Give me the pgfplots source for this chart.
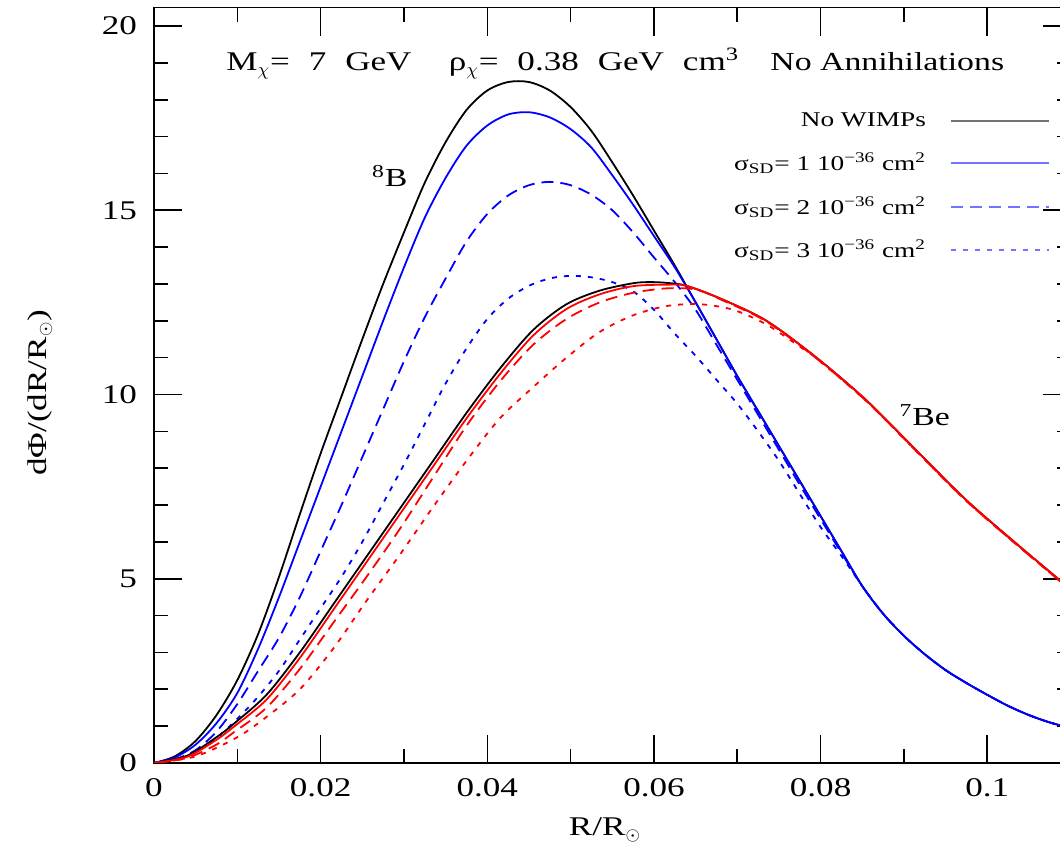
\documentclass[border=0pt]{standalone}
\usepackage{fontspec}
\setmainfont{Liberation Serif}[FakeStretch=1.3]
\usepackage{pgfplots}
\pgfplotsset{compat=1.18}
\newcommand{\wsp}{\hspace{0.7em}}
\begin{document}
\begin{tikzpicture}
\begin{axis}[name=ax,
  scale only axis, width=458.3pt, height=377.7pt,
  xmin=0, xmax=0.11, ymin=0, ymax=20.5,
  axis line style={line width=0.9pt},
  xtick={0,0.02,0.04,0.06,0.08,0.1},
  xticklabels={0,0.02,0.04,0.06,0.08,0.1},
  minor xtick={0.01,0.03,0.05,0.07,0.09,0.11},
  ytick={0,5,10,15,20}, minor y tick num=4,
  tick align=inside, tick pos=both,
  major tick length=14pt, minor tick length=7pt,
  every tick/.style={black, line width=0.8pt},
  /pgf/number format/assume math mode=true,
  ticklabel style={font=\fontsize{13.5}{16}\selectfont},
  xticklabel style={yshift=-4pt},
  yticklabel style={xshift=-5pt},
  xlabel={R/R$_\odot$}, ylabel={dΦ/(dR/R$_\odot$)},
  label style={font=\fontsize{13.5}{16}\selectfont},
  xlabel style={at={(axis description cs:0.492,-0.0887)}, anchor=center},
  ylabel style={at={(axis description cs:-0.1244,0.49)}, anchor=center, rotate=0},
  legend plot pos=right, legend cell align=right,
  legend image code/.code={\draw[#1, opacity=0.55] (0pt,0pt) -- (49pt,0pt);},
  legend style={draw=none, fill=none, at={(axis cs:0.1075,17.75)}, anchor=north east,
    font=\fontsize{10.5}{12}\selectfont, row sep=7.5pt, inner sep=0pt, outer sep=0pt,
    /tikz/every odd column/.style={column sep=10pt}},
  every axis plot/.append style={line width=0.9pt},
]
% 8B, No WIMPs
\addplot[black, smooth] coordinates {(0,0)(0.0025,0.18)(0.005,0.6)(0.0075,1.3)(0.01,2.25)(0.0125,3.5)(0.015,5.05)(0.0175,6.75)(0.02,8.4)(0.0225,9.95)(0.025,11.5)(0.0275,13.0)(0.03,14.4)(0.0325,15.75)(0.035,16.85)(0.0375,17.72)(0.04,18.25)(0.0425,18.48)(0.045,18.48)(0.0475,18.25)(0.05,17.8)(0.0525,17.15)(0.055,16.3)(0.0575,15.4)(0.06,14.45)(0.0625,13.5)(0.065,12.5)(0.0675,11.5)(0.07,10.5)(0.0725,9.55)(0.075,8.6)(0.0775,7.65)(0.08,6.7)(0.0825,5.75)(0.085,4.8)(0.0875,4.05)(0.09,3.45)(0.0925,2.95)(0.095,2.52)(0.0975,2.17)(0.1,1.85)(0.1025,1.55)(0.105,1.3)(0.1075,1.1)(0.11,0.95)};
\addlegendentry{No WIMPs}
% 8B, sigma 1
\addplot[blue, smooth] coordinates {(0,0)(0.0025,0.15)(0.005,0.5)(0.0075,1.08)(0.01,1.9)(0.0125,3.1)(0.015,4.5)(0.0175,6.0)(0.02,7.5)(0.0225,9.0)(0.025,10.5)(0.0275,12.0)(0.03,13.45)(0.0325,14.8)(0.035,15.88)(0.0375,16.75)(0.04,17.3)(0.0425,17.6)(0.045,17.66)(0.0475,17.52)(0.05,17.2)(0.0525,16.7)(0.055,15.95)(0.0575,15.15)(0.06,14.3)(0.0625,13.45)(0.065,12.5)(0.0675,11.5)(0.07,10.5)(0.0725,9.55)(0.075,8.6)(0.0775,7.65)(0.08,6.7)(0.0825,5.75)(0.085,4.8)(0.0875,4.05)(0.09,3.45)(0.0925,2.95)(0.095,2.52)(0.0975,2.17)(0.1,1.85)(0.1025,1.55)(0.105,1.3)(0.1075,1.1)(0.11,0.95)};
\addlegendentry{σ\textsubscript{SD}= 1 10\textsuperscript{−36} cm\textsuperscript{2}}
% 8B, sigma 2
\addplot[blue, smooth, dash pattern=on 6pt off 3.5pt] coordinates {(0,0)(0.0025,0.1)(0.005,0.35)(0.0075,0.85)(0.01,1.6)(0.0125,2.5)(0.015,3.4)(0.0175,4.5)(0.02,5.75)(0.0225,7.0)(0.025,8.3)(0.0275,9.6)(0.03,10.9)(0.0325,12.1)(0.035,13.15)(0.0375,14.15)(0.04,14.9)(0.0425,15.4)(0.045,15.68)(0.0475,15.77)(0.05,15.68)(0.0525,15.42)(0.055,15.0)(0.0575,14.4)(0.06,13.72)(0.0625,13.05)(0.065,12.3)(0.0675,11.35)(0.07,10.4)(0.0725,9.45)(0.075,8.5)(0.0775,7.55)(0.08,6.62)(0.0825,5.7)(0.085,4.8)(0.0875,4.05)(0.09,3.45)(0.0925,2.95)(0.095,2.52)(0.0975,2.17)(0.1,1.85)(0.1025,1.55)(0.105,1.3)(0.1075,1.1)(0.11,0.95)};
\addlegendentry{σ\textsubscript{SD}= 2 10\textsuperscript{−36} cm\textsuperscript{2}}
% 8B, sigma 3
\addplot[blue, smooth, dash pattern=on 2.5pt off 3.5pt] coordinates {(0,0)(0.0025,0.08)(0.005,0.3)(0.0075,0.68)(0.01,1.2)(0.0125,1.8)(0.015,2.5)(0.0175,3.35)(0.02,4.2)(0.0225,5.05)(0.025,6.0)(0.0275,7.05)(0.03,8.1)(0.0325,9.2)(0.035,10.3)(0.0375,11.25)(0.04,12.05)(0.0425,12.6)(0.045,12.95)(0.0475,13.15)(0.05,13.22)(0.0525,13.18)(0.055,13.05)(0.0575,12.8)(0.06,12.3)(0.0625,11.65)(0.065,11.05)(0.0675,10.4)(0.07,9.75)(0.0725,9.0)(0.075,8.2)(0.0775,7.3)(0.08,6.4)(0.0825,5.62)(0.085,4.8)(0.0875,4.05)(0.09,3.45)(0.0925,2.95)(0.095,2.52)(0.0975,2.17)(0.1,1.85)(0.1025,1.55)(0.105,1.3)(0.1075,1.1)(0.11,0.95)};
\addlegendentry{σ\textsubscript{SD}= 3 10\textsuperscript{−36} cm\textsuperscript{2}}
% 7Be, No WIMPs
\addplot[black, smooth, forget plot] coordinates {(0,0)(0.004,0.2)(0.0075,0.7)(0.0095,1.05)(0.0135,1.85)(0.0175,3.0)(0.0215,4.3)(0.0255,5.6)(0.0295,6.9)(0.0335,8.2)(0.0375,9.5)(0.0415,10.7)(0.0455,11.75)(0.0495,12.45)(0.0535,12.82)(0.0575,13.02)(0.0595,13.05)(0.0615,13.03)(0.0639,12.95)(0.068,12.6)(0.0735,12.0)(0.0795,11.0)(0.0855,9.84)(0.0915,8.48)(0.0975,7.13)(0.1035,5.95)(0.1087,4.96)(0.11,4.7)};
% 7Be, sigma 1
\addplot[red, smooth, forget plot] coordinates {(0,0)(0.004,0.17)(0.0075,0.63)(0.0095,0.97)(0.0135,1.72)(0.0175,2.85)(0.0215,4.15)(0.0255,5.45)(0.0295,6.75)(0.0335,8.05)(0.0375,9.35)(0.0415,10.55)(0.0455,11.6)(0.0495,12.32)(0.0535,12.72)(0.0575,12.94)(0.0615,12.98)(0.0639,12.95)(0.068,12.6)(0.0735,12.0)(0.0795,11.0)(0.0855,9.84)(0.0915,8.48)(0.0975,7.13)(0.1035,5.95)(0.1087,4.96)(0.11,4.7)};
% 7Be, sigma 2
\addplot[red, smooth, dash pattern=on 6pt off 3.5pt, forget plot] coordinates {(0,0)(0.004,0.14)(0.0075,0.5)(0.0095,0.82)(0.0135,1.5)(0.0175,2.55)(0.0215,3.8)(0.0255,5.05)(0.0295,6.35)(0.0335,7.75)(0.0375,9.15)(0.0415,10.35)(0.0455,11.35)(0.0495,12.05)(0.0535,12.5)(0.0575,12.76)(0.0615,12.88)(0.065,12.85)(0.068,12.58)(0.0735,11.98)(0.0795,10.98)(0.0855,9.82)(0.0915,8.46)(0.0975,7.11)(0.1035,5.93)(0.1087,4.94)(0.11,4.68)};
% 7Be, sigma 3
\addplot[red, smooth, dash pattern=on 2.5pt off 3.5pt, forget plot] coordinates {(0,0)(0.005,0.18)(0.01,0.7)(0.0135,1.25)(0.0175,2.0)(0.0215,3.1)(0.0255,4.4)(0.0295,5.65)(0.0335,6.95)(0.0375,8.2)(0.0415,9.35)(0.0455,10.2)(0.0495,11.0)(0.0535,11.7)(0.0575,12.15)(0.0615,12.4)(0.0655,12.45)(0.0695,12.3)(0.0735,11.9)(0.0775,11.3)(0.0795,10.98)(0.0855,9.82)(0.0915,8.46)(0.0975,7.11)(0.1035,5.93)(0.1087,4.94)(0.11,4.68)};
\node[font=\fontsize{13.5}{15}\selectfont, anchor=base] at (axis cs:0.0198,18.78) {M\textsubscript{$\chi$}=\wsp7\wsp{}GeV};
\node[font=\fontsize{13.5}{15}\selectfont, anchor=base] at (axis cs:0.0528,18.78) {ρ\textsubscript{$\chi$}=\wsp0.38\wsp{}GeV\wsp{}cm\textsuperscript{3}};
\node[font=\fontsize{13}{15}\selectfont, anchor=base] at (axis cs:0.0880,18.78) {No Annihilations};
\node[font=\fontsize{13}{15}\selectfont] at (axis cs:0.0283,15.93) {\textsuperscript{8}B};
\node[font=\fontsize{13}{15}\selectfont] at (axis cs:0.0925,9.43) {\textsuperscript{7}Be};
\end{axis}
\pgfresetboundingbox
\useasboundingbox ([xshift=-77pt,yshift=-43.5pt]ax.south west) rectangle ([xshift=-5.3pt,yshift=3.8pt]ax.north east);
\end{tikzpicture}
\end{document}
